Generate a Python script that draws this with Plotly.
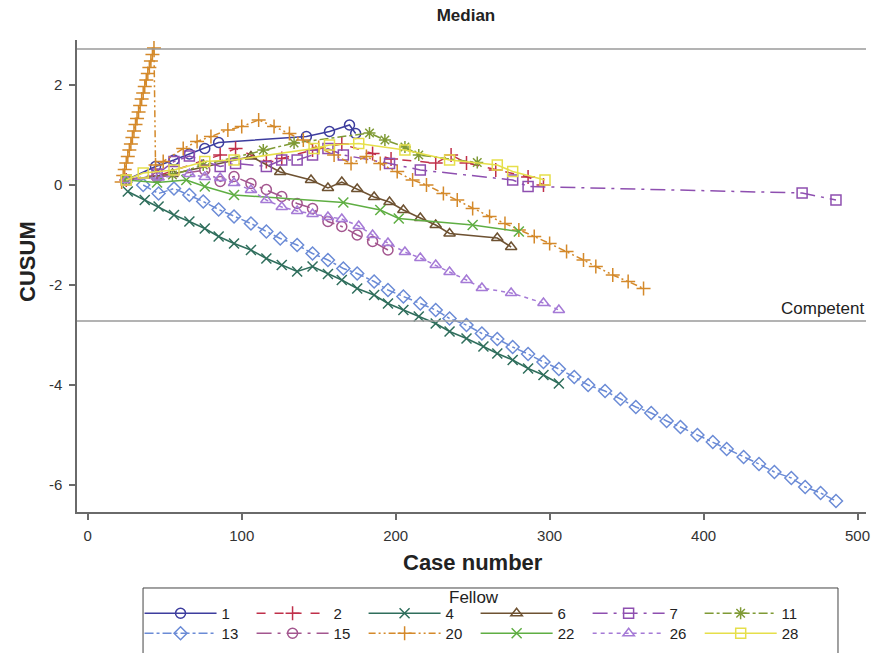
import plotly.graph_objects as go

# CUSUM curves per fellow (case number, CUSUM value)
f1_x = [25, 44, 56, 66, 76, 85, 142, 157, 170, 174]
f1_y = [0.10, 0.37, 0.50, 0.62, 0.73, 0.85, 0.97, 1.07, 1.20, 1.03]

f2_x = [25, 45, 86, 96, 116, 126, 146, 165, 185, 197, 226, 236, 246, 265, 286, 296]
f2_y = [0.10, 0.18, 0.60, 0.73, 0.47, 0.53, 0.70, 0.82, 0.63, 0.52, 0.44, 0.60, 0.44, 0.30, 0.16, 0.00]

f4_x = [26, 37, 46, 56, 66, 76, 85, 95, 106, 116, 126, 136, 146, 156, 165,
        175, 186, 195, 205, 215, 226, 235, 246, 257, 266, 276, 286, 296, 306]
f4_y = [-0.13, -0.30, -0.43, -0.60, -0.73, -0.87, -1.03, -1.17, -1.30, -1.47, -1.60, -1.73, -1.63, -1.78, -1.90,
        -2.07, -2.20, -2.37, -2.50, -2.63, -2.77, -2.93, -3.07, -3.23, -3.37, -3.50, -3.67, -3.80, -3.97]

f6_x = [25, 55, 106, 125, 145, 156, 165, 175, 186, 196, 205, 216, 226, 235, 266, 275]
f6_y = [0.10, 0.22, 0.57, 0.26, 0.10, -0.06, 0.06, -0.08, -0.24, -0.34, -0.50, -0.66, -0.80, -0.97, -1.06, -1.24]

f7_x = [25, 45, 56, 66, 86, 96, 116, 126, 136, 146, 156, 166, 196, 216, 276, 286, 464, 486]
f7_y = [0.10, 0.22, 0.47, 0.58, 0.37, 0.43, 0.37, 0.50, 0.50, 0.60, 0.73, 0.60, 0.43, 0.30, 0.10, -0.03, -0.16, -0.30]

f11_x = [25, 55, 75, 114, 134, 183, 193, 206, 215, 253]
f11_y = [0.10, 0.20, 0.40, 0.70, 0.84, 1.04, 0.90, 0.76, 0.60, 0.45]

f13_x = [36, 46, 56, 66, 75, 85, 95, 106, 116, 125, 136, 146, 156, 166, 175, 186,
         195, 205, 216, 226, 235, 246, 256, 266, 276, 286, 296, 306, 316, 325, 336,
         346, 356, 366, 376, 385, 396, 406, 415, 426, 436, 446, 457, 466, 476, 486]
f13_y = [0.00, -0.17, -0.07, -0.20, -0.33, -0.49, -0.63, -0.77, -0.93, -1.07, -1.20, -1.37, -1.50, -1.67, -1.77, -1.93,
         -2.10, -2.23, -2.37, -2.50, -2.67, -2.80, -2.97, -3.08, -3.24, -3.38, -3.54, -3.68, -3.84, -4.00, -4.12,
         -4.28, -4.44, -4.56, -4.72, -4.84, -5.00, -5.14, -5.28, -5.44, -5.58, -5.74, -5.86, -6.04, -6.16, -6.32]

f15_x = [25, 45, 76, 86, 95, 106, 116, 126, 136, 146, 156, 165, 175, 185, 195]
f15_y = [0.10, 0.15, 0.30, 0.07, 0.17, 0.03, -0.09, -0.23, -0.37, -0.47, -0.73, -0.83, -1.00, -1.13, -1.30]

f20_x = [22, 23, 24, 25, 26, 27, 28, 29, 30, 31, 32, 33, 34, 35, 36, 37, 38, 39, 40, 41, 42, 43,
         44, 49, 62, 71, 80, 91, 100, 111, 121, 131, 140, 150, 160, 171, 181, 190, 201, 211,
         220, 231, 240, 250, 261, 271, 280, 290, 300, 311, 322, 330, 341, 351, 361]
f20_y = [0.06, 0.19, 0.31, 0.44, 0.57, 0.70, 0.82, 0.95, 1.08, 1.21, 1.33, 1.46, 1.59, 1.72, 1.84, 1.97,
         2.10, 2.23, 2.35, 2.48, 2.61, 2.74,
         0.40, 0.47, 0.73, 0.87, 0.97, 1.10, 1.17, 1.30, 1.17, 1.03, 0.90, 0.75, 0.60, 0.43, 0.57, 0.43, 0.27, 0.10,
         0.00, -0.17, -0.30, -0.47, -0.63, -0.77, -0.90, -1.03, -1.17, -1.33, -1.50, -1.63, -1.80, -1.93, -2.07]

f22_x = [25, 45, 64, 76, 95, 166, 190, 202, 250, 280]
f22_y = [0.10, 0.05, 0.10, -0.03, -0.20, -0.35, -0.50, -0.67, -0.80, -0.93]

f26_x = [25, 46, 66, 76, 86, 95, 106, 116, 126, 136, 146, 156, 165, 176, 185, 195, 206,
         216, 226, 235, 246, 256, 275, 296, 306]
f26_y = [0.10, 0.15, 0.22, 0.16, 0.14, 0.04, -0.10, -0.30, -0.44, -0.52, -0.58, -0.64, -0.68, -0.82, -1.00, -1.16, -1.34,
         -1.46, -1.60, -1.74, -1.90, -2.06, -2.16, -2.36, -2.50]

f28_x = [25, 36, 56, 76, 95, 147, 157, 176, 206, 235, 266, 276, 297]
f28_y = [0.10, 0.24, 0.30, 0.47, 0.50, 0.73, 0.80, 0.83, 0.70, 0.50, 0.40, 0.27, 0.10]

x_ticks = [0, 100, 200, 300, 400, 500]
y_ticks = [-6, -4, -2, 0, 2]
y_tick_text = ["-6", "-4", "-2", "0", "2"]
upper_limit = 2.72
lower_limit = -2.72

FONT = "Liberation Sans, Arial, sans-serif"
TEXT = "#222222"
AXIS = "#6a6a6a"
NBSP = "\u00a0"

# (name, x, y, colour, dash, marker symbol, legend row)
series = [
    ("1", f1_x, f1_y, "#3d3d9e", "solid", "circle-open", "legend"),
    ("2", f2_x, f2_y, "#c0304a", "dash", "cross-thin-open", "legend"),
    ("4", f4_x, f4_y, "#2f6e5c", "solid", "x-thin-open", "legend"),
    ("6", f6_x, f6_y, "#6e5232", "solid", "triangle-up-open", "legend"),
    ("7", f7_x, f7_y, "#8e4fb0", "longdashdot", "square-open", "legend"),
    ("11", f11_x, f11_y, "#7f9a35", "dashdot", "asterisk-open", "legend"),
    ("13", f13_x, f13_y, "#6b8bd6", "dashdot", "diamond-open", "legend2"),
    ("15", f15_x, f15_y, "#a3568f", "longdashdot", "circle-open", "legend2"),
    ("20", f20_x, f20_y, "#d4892a", "7px,3px,2px,3px,2px,3px", "cross-thin-open", "legend2"),
    ("22", f22_x, f22_y, "#5fae43", "solid", "x-thin-open", "legend2"),
    ("26", f26_x, f26_y, "#a57ad6", "4px,4px", "triangle-up-open", "legend2"),
    ("28", f28_x, f28_y, "#e6df4a", "solid", "square-open", "legend2"),
]

fig = go.Figure()
for name, xs, ys, color, dash, symbol, row in series:
    # pad labels to a common width so both legend rows share the same columns
    label = name + NBSP * (2 + 2 * (2 - len(name)))
    fig.add_trace(go.Scatter(
        x=xs, y=ys, name=label, legend=row, mode="lines+markers",
        line=dict(color=color, width=1.5, dash=dash),
        marker=dict(symbol=symbol, size=10, color=color, line=dict(color=color, width=1.5)),
    ))

# decision limits
for lim in (upper_limit, lower_limit):
    fig.add_shape(type="line", xref="paper", x0=0, x1=1, yref="y", y0=lim, y1=lim,
                  line=dict(color="#9a9a9a", width=1.5))

# legend frame and its heading
fig.add_shape(type="rect", xref="paper", yref="paper", x0=0.0837, x1=0.9645, y0=-0.161, y1=-0.33,
              line=dict(color="#444444", width=1), fillcolor="rgba(0,0,0,0)", layer="below")
fig.add_annotation(x=0.503, xref="paper", xanchor="center", y=-0.182, yref="paper", yanchor="middle",
                   text="Fellow", showarrow=False, font=dict(family=FONT, size=17, color=TEXT))

fig.add_annotation(x=1, xref="paper", xanchor="right", y=lower_limit, yref="y", yanchor="bottom",
                   text="Competent", showarrow=False, font=dict(family=FONT, size=17, color=TEXT),
                   yshift=1)
fig.add_annotation(x=0.502, xref="paper", xanchor="center", y=-0.106, yref="paper", yanchor="middle",
                   text="<b>Case number</b>", showarrow=False, font=dict(family=FONT, size=22, color=TEXT))
fig.add_annotation(x=-0.062, xref="paper", xanchor="center", y=0.53, yref="paper", yanchor="middle",
                   text="<b>CUSUM</b>", textangle=-90,
                   showarrow=False, font=dict(family=FONT, size=22, color=TEXT))

legend_style = dict(
    orientation="h", xref="container", yref="container", x=0.1575, xanchor="left", yanchor="top",
    borderwidth=0, bgcolor="rgba(0,0,0,0)",
    font=dict(family=FONT, size=15, color=TEXT), itemwidth=72,
)

fig.update_layout(
    width=886, height=653,
    margin=dict(l=77, r=20, t=40, b=141),
    paper_bgcolor="white", plot_bgcolor="white",
    font=dict(family=FONT, color=TEXT),
    title=dict(text="<b>Median</b>", x=0.493, xref="paper", xanchor="center",
               y=1 - 15 / 653, yanchor="middle", font=dict(family=FONT, size=17, color=TEXT)),
    xaxis=dict(range=[-7, 505.5], tickvals=x_ticks, showgrid=False, zeroline=False,
               showline=True, linecolor=AXIS, linewidth=1.5,
               ticks="outside", ticklen=6, tickcolor=AXIS, tickwidth=1.5, ticklabelstandoff=3,
               tickfont=dict(family=FONT, size=15, color="#333333")),
    yaxis=dict(range=[-6.54, 2.9], tickvals=y_ticks, ticktext=y_tick_text, showgrid=False, zeroline=False,
               showline=True, linecolor=AXIS, linewidth=1.5,
               ticks="outside", ticklen=6, tickcolor=AXIS, tickwidth=1.5, ticklabelstandoff=4,
               tickfont=dict(family=FONT, size=15, color="#333333")),
    showlegend=True,
    legend=dict(legend_style, y=1 - 597 / 653),
    legend2=dict(legend_style, y=1 - 617 / 653),
)

fig.write_html("out.html")
